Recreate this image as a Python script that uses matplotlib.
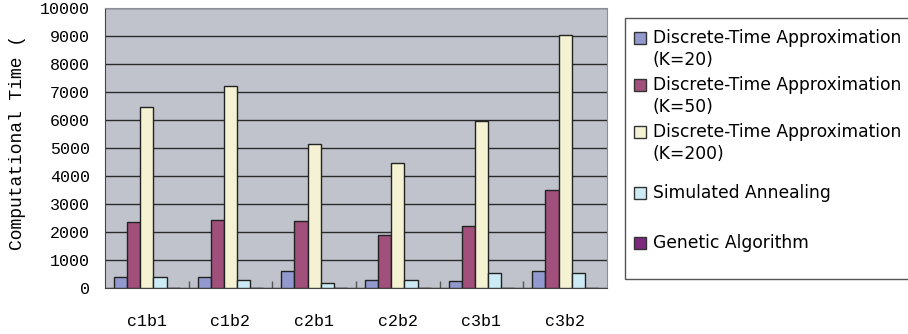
import numpy as np
import matplotlib
matplotlib.use("Agg")
from matplotlib import pyplot as plt
from matplotlib.patches import Rectangle

categories = ["c1b1", "c1b2", "c2b1", "c2b2", "c3b1", "c3b2"]
series_names = [
    "Discrete-Time Approximation\n(K=20)",
    "Discrete-Time Approximation\n(K=50)",
    "Discrete-Time Approximation\n(K=200)",
    "Simulated Annealing",
    "Genetic Algorithm",
]
dta_k20 = [400, 400, 600, 300, 240, 600]
dta_k50 = [2350, 2440, 2380, 1900, 2200, 3510]
dta_k200 = [6460, 7230, 5150, 4460, 5950, 9020]
sim_annealing = [400, 300, 180, 300, 540, 540]
genetic = [0, 0, 0, 0, 0, 0]

colors = ["#9299CF", "#A0507A", "#F5F2D3", "#CCEBF5", "#7D2A7E"]
W, H = 908, 334

fig = plt.figure(figsize=(W / 100, H / 100), dpi=100)
ax = fig.add_axes([105 / W, 1 - 288 / H, (607 - 105) / W, (288 - 8) / H])
ax.set_facecolor("#C0C3CC")

x = np.arange(len(categories))
w = 0.157
all_series = [dta_k20, dta_k50, dta_k200, sim_annealing, genetic]
for i, vals in enumerate(all_series):
    ax.bar(x + (i - 2) * w, vals, width=w, color=colors[i],
           edgecolor="#222222", linewidth=1.0, zorder=3)

ax.set_xlim(-0.5, len(categories) - 0.5)
ax.set_ylim(0, 10000)
ax.set_yticks(range(0, 10001, 1000))
ax.yaxis.grid(True, color="#2a2a2a", linewidth=1.0, zorder=0)
ax.set_axisbelow(True)

mono = "Liberation Mono"
ax.set_xticks(x)
ax.set_xticklabels(categories, fontfamily=mono, fontsize=12)
ax.set_xticks(np.arange(0.5, len(categories) - 0.5, 1), minor=True)
ax.tick_params(axis="x", which="major", length=0, pad=19)
ax.tick_params(axis="x", which="minor", direction="in", length=5,
               color="#555555", width=1)
ax.tick_params(axis="y", length=0, pad=11)
for lab in ax.get_yticklabels():
    lab.set_fontfamily(mono)
    lab.set_fontsize(12)

for side in ["top", "right"]:
    ax.spines[side].set_color("#8a8e96")
for side in ["left", "bottom"]:
    ax.spines[side].set_color("#444444")

fig.text(18 / W, 1 - 142 / H, "Computational Time (", rotation=90,
         fontfamily=mono, fontsize=13, ha="center", va="center")

# legend box, drawn by hand to match the original's slot layout
fig.patches.append(Rectangle((625 / W, 1 - 279 / H), 300 / W, (279 - 18) / H,
                             transform=fig.transFigure, facecolor="white",
                             edgecolor="#555555", linewidth=1))
entry_y = [38, 85, 132, 193, 243]
for name, col, y in zip(series_names, colors, entry_y):
    fig.patches.append(Rectangle((634 / W, 1 - (y + 6) / H), 12 / W, 12 / H,
                                 transform=fig.transFigure, facecolor=col,
                                 edgecolor="#333333", linewidth=1))
    fig.text(653 / W, 1 - (y - 9) / H, name, fontsize=12.3, va="top",
             ha="left", linespacing=1.3, fontfamily="DejaVu Sans")

fig.savefig("out.png", dpi=100)
